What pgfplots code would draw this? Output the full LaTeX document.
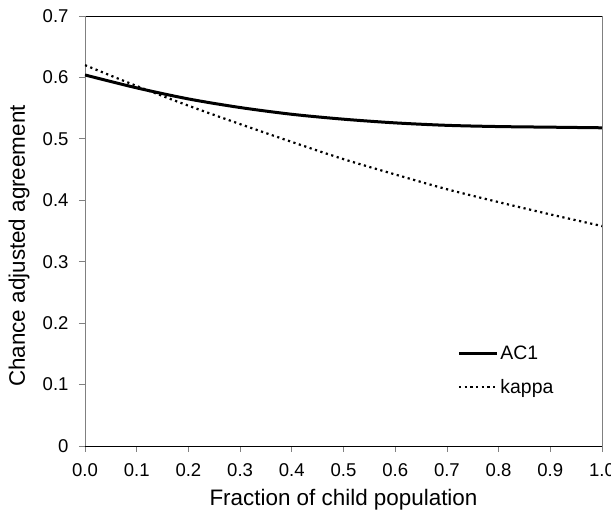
\documentclass[border=0pt]{standalone}
\usepackage{pgfplots}
\pgfplotsset{compat=1.18}
\usepackage{fontspec}
\setmainfont{Liberation Sans}
\begin{document}
\begin{tikzpicture}
\begin{axis}[
  scale only axis, width=517bp, height=430bp,
  xmin=0, xmax=1, ymin=0, ymax=0.7,
  separate axis lines,
  axis x line=box, axis y line=box,
  x axis line style={black, line width=0.8pt},
  y axis line style={gray, line width=0.8pt},
  xtick={0,0.1,...,1.0}, ytick={0,0.1,...,0.7},
  xtick pos=left, ytick pos=left,
  tick align=outside, major tick length=6bp,
  tick style={gray, line width=0.8pt},
  /pgf/number format/assume math mode=true,
  xticklabel style={/pgf/number format/.cd, fixed, fixed zerofill, precision=1, /tikz/.cd, yshift=-8bp},
  yticklabel style={/pgf/number format/.cd, fixed, precision=1, /tikz/.cd, xshift=-7bp},
  ticklabel style={font=\fontsize{18.6}{20}\selectfont},
  xlabel={Fraction of child population},
  ylabel={Chance adjusted agreement},
  label style={font=\fontsize{22.5}{24}\selectfont},
  xlabel style={at={(axis description cs:0.5,0)}, anchor=center, yshift=-54bp},
  ylabel style={at={(axis description cs:0,0.5)}, anchor=center, yshift=66bp, xshift=-15bp},
  legend style={draw=none, fill=none, at={(axis description cs:0.72,0.237)}, anchor=north west,
    font=\fontsize{19.5}{21}\selectfont, row sep=14bp, inner sep=0pt},
  legend cell align=left,
  legend image code/.code={\draw[#1] (0cm,0cm) -- (38bp,0cm);},
]
\addplot[black, line width=3bp, smooth] coordinates {
(0.0,0.604) (0.1,0.583) (0.2,0.565) (0.3,0.551) (0.4,0.540) (0.5,0.532)
(0.6,0.526) (0.7,0.522) (0.8,0.520) (0.9,0.519) (1.0,0.518)};
\addlegendentry{AC1}
\addplot[black, line width=2.2bp, dash pattern=on 2.2bp off 3.5bp, smooth] coordinates {
(0.0,0.620) (0.1,0.586) (0.2,0.554) (0.3,0.524) (0.4,0.495) (0.5,0.467)
(0.6,0.442) (0.7,0.418) (0.8,0.397) (0.9,0.377) (1.0,0.358)};
\addlegendentry{kappa}
\end{axis}
\pgfresetboundingbox
\path ([shift={(-85bp,-72bp)}]current axis.south west) rectangle ([shift={(9bp,16bp)}]current axis.north east);
\end{tikzpicture}
\end{document}
